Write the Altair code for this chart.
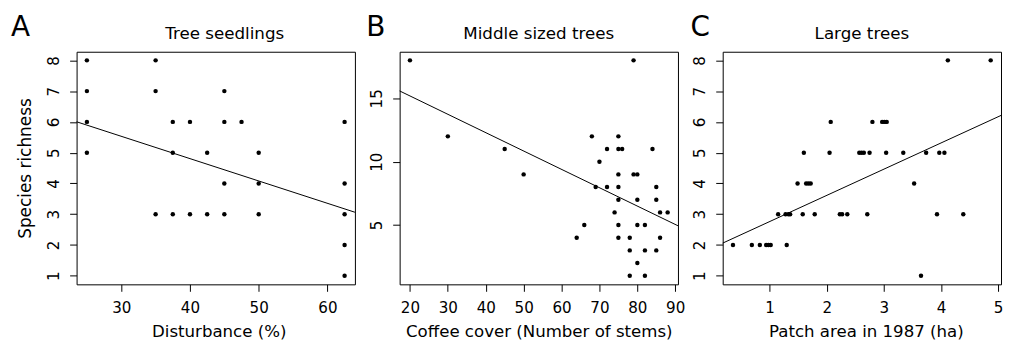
import altair as alt
import pandas as pd

FONT = "DejaVu Sans"

# ---- Panel A: Tree seedlings ----
a_x = [25, 25, 25, 25, 35, 35, 35, 37.5, 37.5, 37.5, 40, 40, 42.5, 42.5,
       45, 45, 45, 45, 47.5, 50, 50, 50, 62.5, 62.5, 62.5, 62.5, 62.5]
a_y = [8, 7, 6, 5, 8, 7, 3, 6, 5, 3, 6, 3, 5, 3,
       7, 6, 4, 3, 6, 5, 4, 3, 6, 4, 3, 2, 1]
a_fit = [7.71, -0.0726]          # intercept, slope
a_xticks = [30, 40, 50, 60]
a_yticks = [1, 2, 3, 4, 5, 6, 7, 8]

# ---- Panel B: Middle sized trees ----
b_x = [20, 30, 45, 50, 79, 68, 75, 72, 75, 76, 84, 70, 75, 79, 80, 69, 72, 75, 85,
       75, 80, 85, 74, 86, 88, 66, 75, 80, 82, 64, 75, 78, 86, 78, 82, 85, 80, 78, 82]
b_y = [18, 12, 11, 9, 18, 12, 12, 11, 11, 11, 11, 10, 9, 9, 9, 8, 8, 8, 8,
       7, 7, 7, 6, 6, 6, 5, 5, 5, 5, 4, 4, 4, 4, 3, 3, 3, 2, 1, 1]
b_fit = [18.09, -0.1449]
b_xticks = [20, 30, 40, 50, 60, 70, 80, 90]
b_yticks = [5, 10, 15]

# ---- Panel C: Large trees ----
c_x = [4.12, 4.87, 2.07, 2.80, 2.97, 3.01, 3.05, 1.60, 2.05, 2.57, 2.61, 2.65, 2.75,
       3.04, 3.34, 3.74, 3.97, 4.06, 1.49, 1.64, 1.68, 1.72, 3.53, 1.15, 1.28, 1.33,
       1.36, 1.58, 1.79, 2.23, 2.27, 2.36, 2.71, 3.93, 4.39, 0.36, 0.69, 0.83, 0.94,
       0.98, 1.02, 1.30, 3.65]
c_y = [8, 8, 6, 6, 6, 6, 6, 5, 5, 5, 5, 5, 5, 5, 5, 5, 5, 5, 4, 4, 4, 4, 4, 3, 3, 3,
       3, 3, 3, 3, 3, 3, 3, 3, 3, 2, 2, 2, 2, 2, 2, 2, 1]
c_fit = [1.907, 0.852]
c_xticks = [1, 2, 3, 4, 5]
c_yticks = [1, 2, 3, 4, 5, 6, 7, 8]

W, H = 280, 234


def padded(v):
    lo, hi = min(v), max(v)
    d = 0.04 * (hi - lo)
    return [lo - d, hi + d]


def panel(xs, ys, fit, xticks, yticks, name, xtitle, ytitle, letter,
          letter_x, name_dx, xtitle_dx):
    df = pd.DataFrame({"x": xs, "y": ys})
    xdom, ydom = padded(xs), padded(ys)
    line_df = pd.DataFrame({"x": xdom, "y": [fit[0] + fit[1] * v for v in xdom]})

    xaxis = alt.Axis(values=xticks, grid=False, domain=False, tickSize=7,
                     tickColor="black", tickWidth=1, labelFont=FONT,
                     labelFontSize=15.2, labelColor="black", labelPadding=9,
                     labelOverlap=False, labelFlush=False,
                     title=xtitle, titleFont=FONT, titleFontSize=16.7,
                     titleFontWeight="normal", titleColor="black",
                     titleBaseline="alphabetic", titleY=52,
                     titleX=W / 2 + xtitle_dx)
    yaxis_kw = dict(values=yticks, grid=False, domain=False, tickSize=7,
                    tickColor="black", tickWidth=1, labelFont=FONT,
                    labelFontSize=15.2, labelColor="black", labelPadding=11,
                    labelAngle=270, labelAlign="center",
                    labelBaseline="alphabetic", labelOverlap=False,
                    labelFlush=False)
    if ytitle:
        yaxis = alt.Axis(title=ytitle, titleFont=FONT, titleFontSize=17,
                         titleFontWeight="normal", titleColor="black",
                         titleBaseline="alphabetic", titleX=-46, **yaxis_kw)
    else:
        yaxis = alt.Axis(title=None, **yaxis_kw)

    xs_ = alt.Scale(domain=xdom, nice=False, zero=False)
    ys_ = alt.Scale(domain=ydom, nice=False, zero=False)
    pts = alt.Chart(df).mark_circle(size=20, color="black", opacity=1).encode(
        x=alt.X("x:Q", scale=xs_, axis=xaxis),
        y=alt.Y("y:Q", scale=ys_, axis=yaxis),
    )
    line = alt.Chart(line_df).mark_line(color="black", strokeWidth=1).encode(
        x=alt.X("x:Q", scale=xs_, axis=xaxis),
        y=alt.Y("y:Q", scale=ys_, axis=yaxis),
    )
    let = alt.Chart(alt.Data(values=[{}])).mark_text(
        text=letter, align="left", baseline="alphabetic", fontSize=28,
        font=FONT, color="black"
    ).encode(x=alt.value(letter_x), y=alt.value(-16))
    ttl = alt.Chart(alt.Data(values=[{}])).mark_text(
        text=name, align="center", baseline="alphabetic", fontSize=16.8,
        font=FONT, color="black"
    ).encode(x=alt.value(W / 2 + name_dx), y=alt.value(-12.5))
    return alt.layer(pts, line, let, ttl).properties(width=W, height=H)


pA = panel(a_x, a_y, a_fit, a_xticks, a_yticks, "Tree seedlings",
           "Disturbance (%)", "Species richness", "A", -66, 9, 3)
pB = panel(b_x, b_y, b_fit, b_xticks, b_yticks, "Middle sized trees",
           "Coffee cover (Number of stems)", None, "B", -33.5, 0, 0)
pC = panel(c_x, c_y, c_fit, c_xticks, c_yticks, "Large trees",
           "Patch area in 1987 (ha)", None, "C", -32.5, 0, 4)

chart = alt.hconcat(pA, pB, pC, spacing=45, bounds="flush").properties(
    padding={"left": 2, "top": 4, "right": 0, "bottom": 0}
).configure(font=FONT).configure_view(stroke="black", strokeWidth=1)

chart.save("out.html", embed_options={"renderer": "svg", "actions": False})
